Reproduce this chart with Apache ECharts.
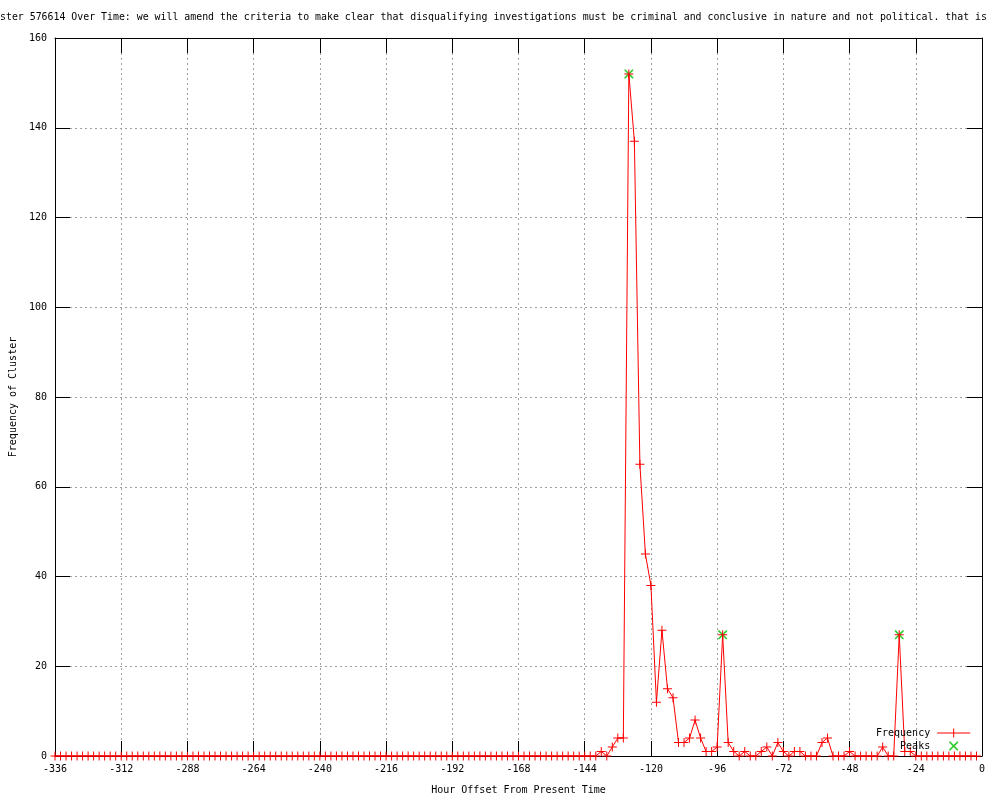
<!DOCTYPE html>
<html>
<head>
<meta charset="utf-8">
<script src="https://cdn.jsdelivr.net/npm/echarts@6/dist/echarts.min.js"></script>
<style>html,body{margin:0;padding:0;background:#fff}#c{width:1000px;height:800px}</style>
</head>
<body>
<div id="c"></div>
<script>
const titleText = "ster 576614 Over Time: we will amend the criteria to make clear that disqualifying investigations must be criminal and conclusive in nature and not political. that is";
const xTickMin = -336, xTickMax = 0, xTickStep = 24;
const yTickMin = 0, yTickMax = 160, yTickStep = 20;
// hour offsets (every 2 hours from -336 to 0)
const hours = [];
for (let h = -336; h <= 0; h += 2) hours.push(h);
// frequency per 2-hour bin
const freqEarly = [
 0,0,0,0,0,0,0,0,0,0,0,0,0,0,0,0,0,0,0,0,0,0,0,0,
 0,0,0,0,0,0,0,0,0,0,0,0,0,0,0,0,0,0,0,0,0,0,0,0,
 0,0,0,0,0,0,0,0,0,0,0,0,0,0,0,0,0,0,0,0,0,0,0,0,
 0,0,0,0,0,0,0,0,0,0,0,0,0,0,0,0,0,0,0,0,0,0,0,0
];
const freqLate = [
 0,0,0,1,0,2,4,4,152,137,65,45,38,12,28,15,13,3,3,4,8,4,1,1,2,27,
 3,1,0,1,0,0,1,2,0,3,1,0,1,1,0,0,0,3,4,0,0,0,1,0,0,0,0,0,2,0,0,27,
 1,1,0,0,0,0,0,0,0,0,0,0,0,0
];
const freq = freqEarly.concat(freqLate);
const peakHours = [-128, -94, -30];
const peakValues = [152, 27, 27];

const mono = 'DejaVu Sans Mono';
const plusPath = 'path://M0,4h9v1h-9zM4,0h1v9h-1z';
const xPath = 'path://M0,0L1.2,0L9,7.8L9,9L7.8,9L0,1.2ZM9,0L9,1.2L1.2,9L0,9L0,7.8L7.8,0Z';
const legendLinePath = 'path://M0,4h33v1h-33zM16,0h1v9h-1z';

const freqData = hours.map((h, i) => [h, freq[i]]);
const peakData = peakHours.map((h, i) => [h, peakValues[i]]);

const chart = echarts.init(document.getElementById('c'), null, {renderer: 'canvas'});
const axisCommonX = {type: 'value', min: xTickMin, max: xTickMax, interval: xTickStep};
const axisCommonY = {type: 'value', min: yTickMin, max: yTickMax, interval: yTickStep};
chart.setOption({
  animation: false,
  backgroundColor: '#ffffff',
  title: {
    text: titleText, left: 0, top: 12, padding: 0,
    textStyle: {fontFamily: mono, fontSize: 9.9, fontWeight: 'normal', color: '#000'}
  },
  grid: {left: 55, right: 18, top: 38, bottom: 40, containLabel: false},
  legend: {
    orient: 'vertical', left: 876, top: 728, padding: 0, itemGap: 3,
    align: 'right', itemWidth: 33, itemHeight: 9,
    textStyle: {fontFamily: mono, fontSize: 10, color: '#000', padding: [0, 2, 0, 0]},
    formatter: name => name.padStart(9, ' '),
    data: [
      {name: 'Frequency', icon: legendLinePath},
      {name: 'Peaks', icon: xPath}
    ]
  },
  xAxis: [
    Object.assign({}, axisCommonX, {
      position: 'bottom',
      name: 'Hour Offset From Present Time', nameLocation: 'middle', nameGap: 29,
      nameTextStyle: {fontFamily: mono, fontSize: 10, color: '#000'},
      axisLine: {show: true, onZero: false, lineStyle: {color: '#000', width: 1}},
      axisTick: {show: true, inside: true, length: 15, lineStyle: {color: '#000'}},
      axisLabel: {fontFamily: mono, fontSize: 10, color: '#000', margin: 8},
      splitLine: {show: true, lineStyle: {color: '#a0a0a0', type: [2, 3], width: 1}}
    }),
    Object.assign({}, axisCommonX, {
      position: 'top',
      axisLine: {show: true, onZero: false, lineStyle: {color: '#000', width: 1}},
      axisTick: {show: true, inside: true, length: 15, lineStyle: {color: '#000'}},
      axisLabel: {show: false},
      splitLine: {show: false}
    })
  ],
  yAxis: [
    Object.assign({}, axisCommonY, {
      position: 'left',
      name: 'Frequency of Cluster', nameLocation: 'middle', nameGap: 36,
      nameTextStyle: {fontFamily: mono, fontSize: 10, color: '#000'},
      axisLine: {show: true, onZero: false, lineStyle: {color: '#000', width: 1}},
      axisTick: {show: true, inside: true, length: 15, lineStyle: {color: '#000'}},
      axisLabel: {fontFamily: mono, fontSize: 10, color: '#000', margin: 8},
      splitLine: {show: true, lineStyle: {color: '#a0a0a0', type: [2, 3], width: 1}}
    }),
    Object.assign({}, axisCommonY, {
      position: 'right',
      axisLine: {show: true, onZero: false, lineStyle: {color: '#000', width: 1}},
      axisTick: {show: true, inside: true, length: 15, lineStyle: {color: '#000'}},
      axisLabel: {show: false},
      splitLine: {show: false}
    })
  ],
  series: [
    {
      name: 'Frequency', type: 'line', xAxisIndex: 0, yAxisIndex: 0,
      data: freqData, showSymbol: true, symbol: plusPath, symbolSize: 9,
      lineStyle: {color: '#ff0000', width: 1},
      itemStyle: {color: '#ff0000'},
      emphasis: {disabled: true}
    },
    {
      name: 'Peaks', type: 'scatter', xAxisIndex: 0, yAxisIndex: 0,
      data: peakData, symbol: xPath, symbolSize: 9,
      itemStyle: {color: '#00c000'},
      emphasis: {disabled: true}
    }
  ]
});
</script>
</body>
</html>
